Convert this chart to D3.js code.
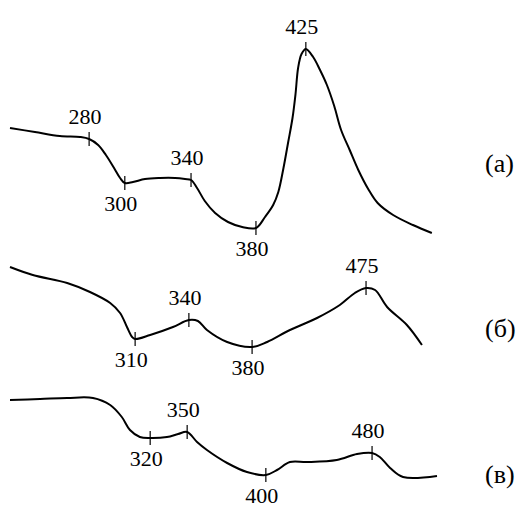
<!DOCTYPE html>
<html>
<head>
<meta charset="utf-8">
<script src="https://cdn.jsdelivr.net/npm/d3@7"></script>
<style>
  body { margin: 0; background: #fff; }
  text { font-family: "Liberation Serif", "Times New Roman", serif; fill: #000; }
</style>
</head>
<body>
<div id="chart"></div>
<script>
// curves: [position, intensity]; position is relative (no linear nm axis in the figure)
const curveA = [
    [0, 56], [5.8, 54], [11.6, 52], [16.3, 51.5], [18.4, 50.5], [20.5, 47.5], [22.3, 42.5],
    [24.2, 36], [25.6, 31], [26.7, 28.5], [28.6, 29], [31.4, 30.5], [34.9, 31], [38.4, 31],
    [40.7, 30.5], [42.1, 30], [43.5, 26], [45.3, 19.5], [47.7, 13.5], [50.7, 9], [54, 6.5],
    [57.2, 6], [59.3, 11.5], [61.2, 17.5], [62.4, 24], [63.6, 36], [64.7, 49], [65.7, 61],
    [66.4, 73], [67, 86], [67.8, 93], [68.8, 95.5], [70.5, 91.5], [72.1, 85],
    [73.7, 77.5], [75.4, 67], [77, 55], [79, 45], [81, 35], [83.3, 25.5], [85.5, 18.5],
    [89.1, 12.5], [93.7, 7.5], [98.1, 3.5]
];
const curveB = [
    [0, 46.5], [5.3, 42.5], [13.3, 38.5], [18.6, 34], [23.3, 28.5], [25.6, 23.5], [27.2, 16.5],
    [28.4, 11.5], [29.1, 10.5], [32.6, 12.5], [37.9, 16.5], [41.6, 20], [43.7, 19.5], [45.8, 15],
    [50.5, 9], [56.3, 6.5], [59.8, 9], [65.1, 15], [71.4, 21], [76.7, 27.5], [80.2, 33.5],
    [82.8, 36], [84.9, 35], [87.7, 26.5], [92.3, 17.5], [95.8, 7.5]
];
const curveC = [
    [0, 40], [7, 40.5], [13.3, 41], [19.3, 41], [23.3, 37.5], [26, 31.5], [27.9, 25], [30.2, 21.5],
    [32.6, 21], [36.5, 21.5], [39.1, 23], [41.2, 24], [43.5, 19], [45.8, 15], [50.5, 8.5],
    [55.1, 4], [59.5, 2.5], [62.1, 5], [65.1, 9], [69.1, 9], [76, 10], [80.7, 13], [84.2, 13.5],
    [86, 11.5], [88.4, 6], [91.4, 1.5], [99.3, 2]
];

// marked wavelengths (nm): [label, position, side]
const marksA = [["280", 18.4, "up"], ["300", 26.7, "down"], ["340", 42.1, "up"], ["380", 57.2, "down"], ["425", 68.8, "up"]];
const marksB = [["310", 29.1, "down"], ["340", 41.6, "up"], ["380", 56.3, "down"], ["475", 82.8, "up"]];
const marksC = [["320", 32.6, "down"], ["350", 41.2, "up"], ["400", 59.5, "down"], ["480", 84.2, "up"]];

const panelNames = ["(а)", "(б)", "(в)"];
const panelNameLevel = [34, 11.5, -1.5];

const WIDTH = 522, HEIGHT = 506;

const svg = d3.select("#chart")
    .append("svg")
    .attr("width", WIDTH)
    .attr("height", HEIGHT);

const x = d3.scaleLinear().domain([0, 100]).range([10, 440]);

const panels = [
    { data: curveA, marks: marksA, y: d3.scaleLinear().domain([0, 100]).range([240, 40]) },
    { data: curveB, marks: marksB, y: d3.scaleLinear().domain([0, 100]).range([360, 160]) },
    { data: curveC, marks: marksC, y: d3.scaleLinear().domain([0, 100]).range([480, 280]) }
];

function valueAt(data, u) {
    const i = Math.min(d3.bisector(d => d[0]).left(data, u), data.length - 1);
    if (i === 0 || data[i][0] <= u) return data[i][1];
    const a = data[i - 1], b = data[i];
    return a[1] + (b[1] - a[1]) * (u - a[0]) / (b[0] - a[0]);
}

panels.forEach((p, k) => {
    const g = svg.append("g");

    const line = d3.line()
        .x(d => x(d[0]))
        .y(d => p.y(d[1]))
        .curve(d3.curveCatmullRom.alpha(0.5));

    g.append("path")
        .datum(p.data)
        .attr("fill", "none")
        .attr("stroke", "#000")
        .attr("stroke-width", 2)
        .attr("stroke-linejoin", "round")
        .attr("d", line);

    const m = g.selectAll(".mark")
        .data(p.marks)
        .enter()
        .append("g")
        .attr("class", "mark")
        .attr("transform", d => `translate(${x(d[1])},${p.y(valueAt(p.data, d[1]))})`);

    m.append("line")
        .attr("y1", -7)
        .attr("y2", 7)
        .attr("stroke", "#000")
        .attr("stroke-width", 1.2);

    m.append("text")
        .attr("x", -4)
        .attr("y", d => d[2] === "up" ? -15 : 28)
        .attr("text-anchor", "middle")
        .attr("font-size", "22px")
        .text(d => d[0]);

    g.append("text")
        .attr("x", 485)
        .attr("y", p.y(panelNameLevel[k]))
        .attr("font-size", "26px")
        .text(panelNames[k]);
});
</script>
</body>
</html>
